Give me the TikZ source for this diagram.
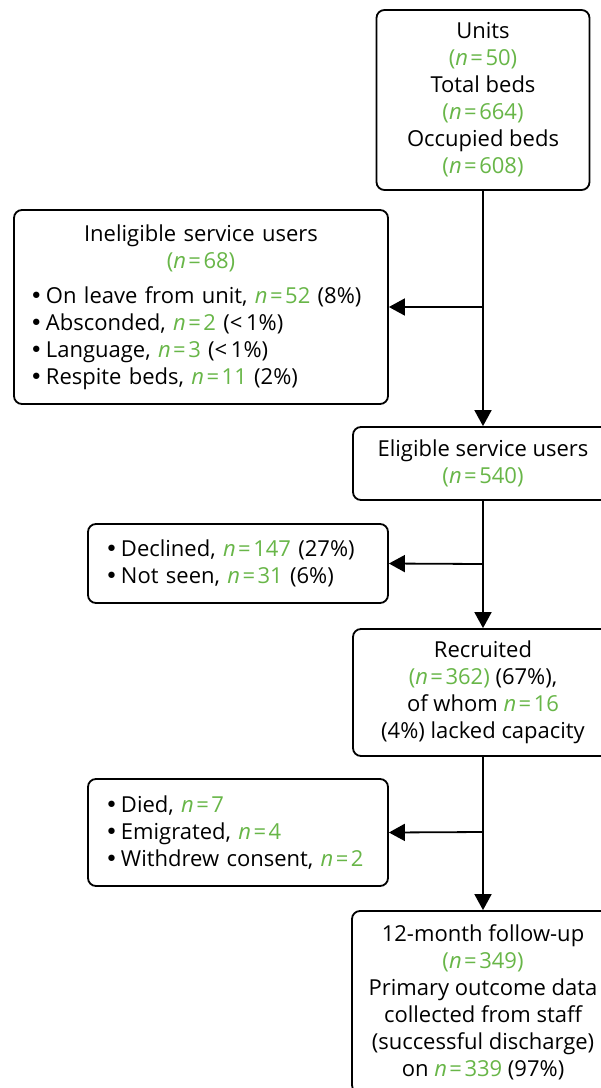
\documentclass[tikz,border=0pt]{standalone}
\usepackage{fontspec}
\setmainfont{Open Sans}
\newfontfamily\bulfont{DejaVu Sans}
\usetikzlibrary{arrows.meta}
\definecolor{grn}{RGB}{104,182,72}
\newcommand\nv[1]{\textcolor{grn}{\textit{n}\kern2.5pt=\kern2.5pt#1}}
\newcommand\pn[1]{\textcolor{grn}{(\textit{n}\kern2.5pt=\kern2.5pt#1)}}
\newcommand\bul{{\bulfont •}\kern3pt}
\tikzset{
  box/.style={draw, line width=1.8pt, rounded corners=8pt, inner sep=0pt,
    align=center, font=\fontsize{22}{27}\selectfont},
  listbox/.style={box, align=left},
  arr/.style={line width=1.8pt, -{Triangle[length=16pt,width=17pt]}}
}
\begin{document}
\begin{tikzpicture}[x=1pt,y=-1pt]
\useasboundingbox (0,0) rectangle (601,1088);
\clip (0,0) rectangle (601,1088);
\fill[white] (0,0) rectangle (601,1088);
\node[box, minimum width=213pt, minimum height=180pt] (units) at (483,100)
  {Units\\ \pn{50}\\ Total beds\\ \pn{664}\\ Occupied beds\\ \pn{608}};
\node[listbox, text width=342pt, minimum width=374pt, minimum height=194pt] (inel) at (201,307)
  {\makebox[342pt][c]{Ineligible service users}\\
   \makebox[342pt][c]{\pn{68}}\\[8pt]
   \bul{}On leave from unit, \nv{52} (8\%)\\
   \bul{}Absconded, \nv{2} (<\,1\%)\\
   \bul{}Language, \nv{3} (<\,1\%)\\
   \bul{}Respite beds, \nv{11} (2\%)};
\node[box, minimum width=260pt, minimum height=73pt] (elig) at (483,463.5)
  {Eligible service users\\ \pn{540}};
\node[listbox, text width=266pt, minimum width=300pt, minimum height=79pt] (decl) at (238,563.5)
  {\bul{}Declined, \nv{147} (27\%)\\
   \bul{}Not seen, \nv{31} (6\%)};
\node[box, minimum width=260pt, minimum height=127pt] (recr) at (483,692.5)
  {Recruited\\ \pn{362} (67\%),\\ of whom \nv{16}\\ (4\%) lacked capacity};
\node[listbox, text width=266pt, minimum width=300pt, minimum height=107pt] (died) at (238,832.5)
  {\bul{}Died, \nv{7}\\
   \bul{}Emigrated, \nv{4}\\
   \bul{}Withdrew consent, \nv{2}};
\node[box, minimum width=262pt, minimum height=182pt] (fu) at (483,1002)
  {12-month follow-up\\ \pn{349}\\ Primary outcome data\\ collected from staff\\
   (successful discharge)\\ on \nv{339} (97\%)};
\coordinate (b1) at (483,307);
\coordinate (b2) at (483,564);
\coordinate (b3) at (483,832);
\draw[arr] (units.south) -- (elig.north);
\draw[arr] (b1) -- (inel.east);
\draw[arr] (elig.south) -- (recr.north);
\draw[arr] (b2) -- (decl.east);
\draw[arr] (recr.south) -- (fu.north);
\draw[arr] (b3) -- (died.east);
\end{tikzpicture}
\end{document}
